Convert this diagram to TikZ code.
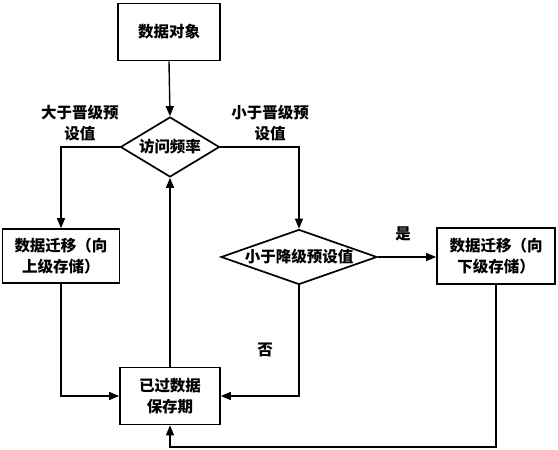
\documentclass[tikz,border=0pt]{standalone}
\usepackage{fontspec}
\setmainfont{Noto Sans CJK SC}
\usetikzlibrary{shapes.geometric,arrows.meta}
\begin{document}
\begin{tikzpicture}[x=1pt,y=-1pt,
  every node/.style={font=\fontsize{15.5}{21}\selectfont\bfseries, inner sep=0pt},
  box/.style={draw, line width=1.7pt, minimum width=#1, align=center},
  dia/.style={draw, diamond, line width=1.7pt, inner sep=0pt},
  conn/.style={line width=1.4pt},
  arr/.style={conn, -{Triangle[length=10pt,width=8pt]}},
  lbl/.style={align=center}
]
\useasboundingbox (0,0) rectangle (558,450);
\node[box=102pt, minimum height=57pt] (top) at (169,32) {数据对象};
\node[dia, minimum width=99pt, minimum height=60pt] (d1) at (170,147) {};
\node (d1t) at (d1.center) {访问频率};
\node[box=117pt, minimum height=54pt] (lbox) at (61,256) {数据迁移（向\\上级存储）};
\node[dia, minimum width=156pt, minimum height=55pt] (d2) at (299,257) {};
\node (d2t) at (d2.center) {小于降级预设值};
\node[box=118pt, minimum height=56pt] (rbox) at (496,256) {数据迁移（向\\下级存储）};
\node[box=100pt, minimum height=57pt] (bbox) at (170,396) {已过数据\\保存期};
\node[lbl] (l1) at (80,123) {大于晋级预\\设值};
\node[lbl] (l2) at (270,123) {小于晋级预\\设值};
\node (yes) at (403,234) {是};
\node (no) at (265,350) {否};
\coordinate (c1) at (496,447);

\draw[arr] (top.south) -- (d1.north);
\draw[arr] (d1.west) -| (lbox.north);
\draw[arr] (d1.east) -| (d2.north);
\draw[arr] (d2.east) -- (rbox.west |- d2.east);
\draw[arr] (lbox.south) |- (bbox.west);
\draw[arr] (d2.south) |- (bbox.east);
\draw[arr] (rbox.south) -- (c1) -| (bbox.south);
\draw[arr] (bbox.north) -- (d1.south);
\end{tikzpicture}
\end{document}
